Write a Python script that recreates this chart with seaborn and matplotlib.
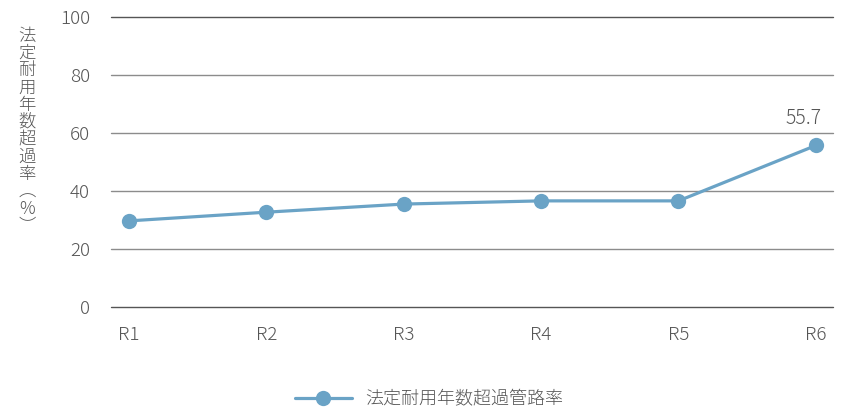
import matplotlib
matplotlib.use("Agg")
import matplotlib.pyplot as plt
import seaborn as sns
import pandas as pd
from matplotlib.lines import Line2D

years = ["R1", "R2", "R3", "R4", "R5", "R6"]
rates = [29.7, 32.7, 35.5, 36.6, 36.6, 55.7]
series_name = "法定耐用年数超過管路率"
y_label = "法定耐用年数超過率︵%︶"
y_ticks = [0, 20, 40, 60, 80, 100]

sns.set_theme(style="white")
plt.rcParams["font.family"] = ["Noto Sans CJK JP", "DejaVu Sans"]
plt.rcParams["font.weight"] = "light"

color = "#6aa3c6"
text_color = "#555555"

df = pd.DataFrame({"year": years, "rate": rates})

fig = plt.figure(figsize=(8.49, 4.11), dpi=100)
ax = fig.add_axes([0.1307, 0.253, 0.8503, 0.7056])

sns.lineplot(data=df, x="year", y="rate", ax=ax, color=color, linewidth=2.3,
             marker="o", markersize=11, markeredgewidth=0, sort=False, zorder=3)

ax.set_ylim(0, 100)
ax.set_xlim(-0.131, 5.124)
ax.set_yticks(y_ticks)
for v in y_ticks:
    ax.axhline(v, color="#555555" if v in (0, 100) else "#8c8c8c",
               linewidth=1, zorder=1, clip_on=False)

for s in ax.spines.values():
    s.set_visible(False)
ax.tick_params(axis="both", length=0, labelsize=13.5, labelcolor=text_color)
ax.tick_params(axis="y", pad=15)
ax.tick_params(axis="x", pad=14)
ax.set_xlabel("")
ax.set_ylabel("")

# value label on the latest year
ax.annotate(f"{rates[-1]:.1f}", xy=(5, rates[-1]), xytext=(4, 12),
            textcoords="offset points", ha="right", va="bottom",
            fontsize=14, color=text_color)

# vertical axis title written top-to-bottom
fig.text(0.032, 0.935, "\n".join(y_label), ha="center", va="top",
         fontsize=12.5, color=text_color, linespacing=0.95)

handle = Line2D([], [], color=color, linewidth=2.3, marker="o",
                markersize=11, markeredgewidth=0)
fig.legend([handle], [series_name], loc="center", bbox_to_anchor=(0.505, 0.028),
           frameon=False, fontsize=13, handlelength=3.2, handletextpad=0.7,
           labelcolor=text_color)

fig.savefig("out.png", dpi=100)
